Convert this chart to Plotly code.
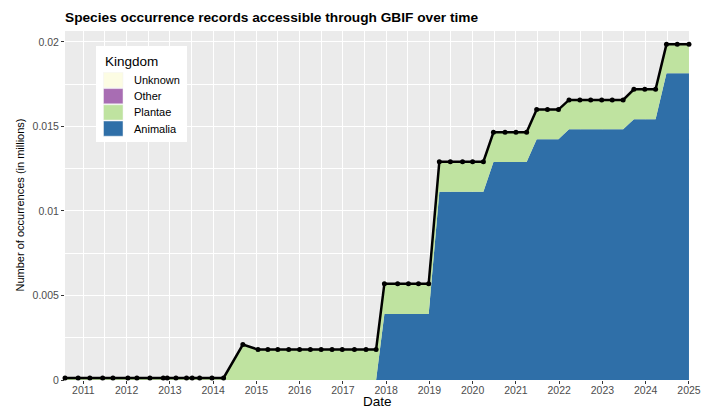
import plotly.graph_objects as go

# Snapshot dates of the GBIF-accessible occurrence records
dates = [
    "2010-07-30", "2010-11-18", "2011-02-25", "2011-06-13", "2011-09-08",
    "2012-01-12", "2012-03-28", "2012-07-16", "2012-11-06", "2012-12-09",
    "2013-02-21", "2013-05-21", "2013-07-08", "2013-09-09", "2013-12-22",
    "2014-03-30", "2014-09-09",
    "2015-01-15", "2015-04-08", "2015-07-01", "2015-10-01", "2016-01-01",
    "2016-04-01", "2016-07-01", "2016-10-01", "2016-12-26", "2017-04-08",
    "2017-07-15", "2017-10-08",
    "2017-12-17", "2018-04-08", "2018-07-08", "2018-10-01", "2018-12-26",
    "2019-03-26", "2019-06-27", "2019-10-08", "2020-01-01", "2020-04-01",
    "2020-06-25", "2020-10-01", "2021-01-01", "2021-04-01",
    "2021-06-25", "2021-09-24", "2021-12-26",
    "2022-03-25", "2022-06-25", "2022-09-24", "2022-12-26", "2023-03-25", "2023-06-25",
    "2023-09-24", "2023-12-25", "2024-03-25",
    "2024-06-25", "2024-09-24", "2025-01-01",
]

# Occurrences per kingdom (in millions)
animalia = [
    0, 0, 0, 0, 0, 0, 0, 0, 0, 0, 0, 0, 0, 0, 0, 0, 0,
    0, 0, 0, 0, 0, 0, 0, 0, 0, 0, 0, 0,
    0.0039, 0.0039, 0.0039, 0.0039, 0.0039,
    0.01114, 0.01114, 0.01114, 0.01114, 0.01114,
    0.0129, 0.0129, 0.0129, 0.0129,
    0.01424, 0.01424, 0.01424,
    0.01483, 0.01483, 0.01483, 0.01483, 0.01483, 0.01483,
    0.01543, 0.01543, 0.01543,
    0.01815, 0.01815, 0.01815,
]
plantae = [
    0.00012, 0.00012, 0.00012, 0.00012, 0.00012, 0.00012, 0.00012, 0.00012,
    0.00012, 0.00012, 0.00012, 0.00012, 0.00012, 0.00012, 0.00012, 0.00012,
    0.0021,
    0.0018, 0.0018, 0.0018, 0.0018, 0.0018, 0.0018, 0.0018, 0.0018, 0.0018,
    0.0018, 0.0018, 0.0018,
    0.0018, 0.0018, 0.0018, 0.0018, 0.0018,
    0.00178, 0.00178, 0.00178, 0.00178, 0.00178,
    0.00176, 0.00176, 0.00176, 0.00176,
    0.00176, 0.00176, 0.00176,
    0.00174, 0.00174, 0.00174, 0.00174, 0.00174, 0.00174,
    0.00177, 0.00177, 0.00177,
    0.00171, 0.00171, 0.00171,
]
other = [0.0] * len(dates)
unknown = [0.0] * len(dates)

total = [a + p + o + u for a, p, o, u in zip(animalia, plantae, other, unknown)]

kingdoms = ["Unknown", "Other", "Plantae", "Animalia"]
kingdom_colors = {
    "Unknown": "#FCFCE3",
    "Other": "#A86DB3",
    "Plantae": "#BFE3A0",
    "Animalia": "#2F6FA8",
}
series = {"Animalia": animalia, "Plantae": plantae, "Other": other, "Unknown": unknown}

y_ticks = [0, 0.005, 0.01, 0.015, 0.02]
y_tick_text = ["0", "0.005", "0.01", "0.015", "0.02"]

W, H = 707, 408
L, R, T, B = 65, 18, 31, 28
PW, PH = W - L - R, H - T - B

FONT = "Liberation Sans, Arial, Helvetica, sans-serif"


def px_x(px):
    return (px - L) / PW


def px_y(py):
    return (H - B - py) / PH


fig = go.Figure()

# Stacked areas, Animalia at the bottom
for name in ["Animalia", "Plantae", "Other", "Unknown"]:
    fig.add_trace(go.Scatter(
        x=dates, y=series[name], name=name,
        mode="lines", stackgroup="kingdom",
        line=dict(width=0, color=kingdom_colors[name]),
        fillcolor=kingdom_colors[name],
        showlegend=False, hoverinfo="skip",
    ))

# Total line with points
fig.add_trace(go.Scatter(
    x=dates, y=total, mode="lines+markers",
    line=dict(color="black", width=2.5),
    marker=dict(color="black", size=5),
    showlegend=False, cliponaxis=False,
))

# Legend box drawn by hand (ggplot-style square keys)
shapes = [dict(
    type="rect", xref="paper", yref="paper",
    x0=px_x(96), x1=px_x(187), y0=px_y(142), y1=px_y(46),
    fillcolor="white", line=dict(width=0), layer="above",
)]
annotations = [dict(
    text="Kingdom", xref="paper", yref="paper",
    x=px_x(103), y=px_y(61), xanchor="left", yanchor="middle",
    showarrow=False, font=dict(family=FONT, size=13.5, color="black"),
)]
key_top = 72
for i, name in enumerate(kingdoms):
    y0 = key_top + i * 16.2
    shapes.append(dict(
        type="rect", xref="paper", yref="paper",
        x0=px_x(103.5), x1=px_x(123), y0=px_y(y0 + 15.6), y1=px_y(y0 + 0.4),
        fillcolor=kingdom_colors[name], line=dict(width=0.5, color="#F2F2F2"),
        layer="above",
    ))
    annotations.append(dict(
        text=name, xref="paper", yref="paper",
        x=px_x(132), y=px_y(y0 + 8), xanchor="left", yanchor="middle",
        showarrow=False, font=dict(family=FONT, size=11, color="black"),
    ))

# Axis titles
annotations.append(dict(
    text="Date", xref="paper", yref="paper",
    x=0.5, y=px_y(401), xanchor="center", yanchor="middle",
    showarrow=False, font=dict(family=FONT, size=13.5, color="black"),
))
annotations.append(dict(
    text="Number of occurrences (in millions)", xref="paper", yref="paper",
    x=px_x(19), y=0.5, xanchor="center", yanchor="middle", textangle=-90,
    showarrow=False,
    font=dict(family=FONT, size=11, color="black"),
))

fig.update_layout(
    width=W, height=H,
    margin=dict(l=L, r=R, t=T, b=B, autoexpand=False),
    paper_bgcolor="white", plot_bgcolor="#EBEBEB",
    font=dict(family=FONT, color="#4D4D4D"),
    title=dict(
        text="<b>Species occurrence records accessible through GBIF over time</b>",
        x=px_x(65), xref="paper", xanchor="left",
        y=1 - 17.5 / H, yref="container", yanchor="middle",
        font=dict(family=FONT, size=13.7, color="black"),
    ),
    showlegend=False,
    shapes=shapes, annotations=annotations,
)

fig.update_xaxes(
    type="date", range=["2010-07-30", "2025-01-01 06:00"],
    tick0="2011-01-01", dtick="M12", tickformat="%Y",
    ticks="outside", ticklen=3, tickcolor="#333333", tickwidth=1,
    ticklabelstandoff=-3,
    tickfont=dict(family=FONT, size=10.5, color="#4D4D4D"),
    showgrid=True, gridcolor="white", gridwidth=1,
    minor=dict(dtick="M6", tick0="2011-01-01", showgrid=True, gridcolor="white", gridwidth=0.5),
    zeroline=False, showline=False,
)
fig.update_yaxes(
    range=[0, 0.02065],
    tickvals=y_ticks, ticktext=y_tick_text,
    ticks="outside", ticklen=3, tickcolor="#333333", tickwidth=1,
    tickfont=dict(family=FONT, size=10.5, color="#4D4D4D"),
    showgrid=True, gridcolor="white", gridwidth=1,
    minor=dict(tickvals=[0.0025, 0.0075, 0.0125, 0.0175], showgrid=True,
               gridcolor="white", gridwidth=0.5),
    zeroline=False, showline=False,
)

fig.write_html("out.html")
